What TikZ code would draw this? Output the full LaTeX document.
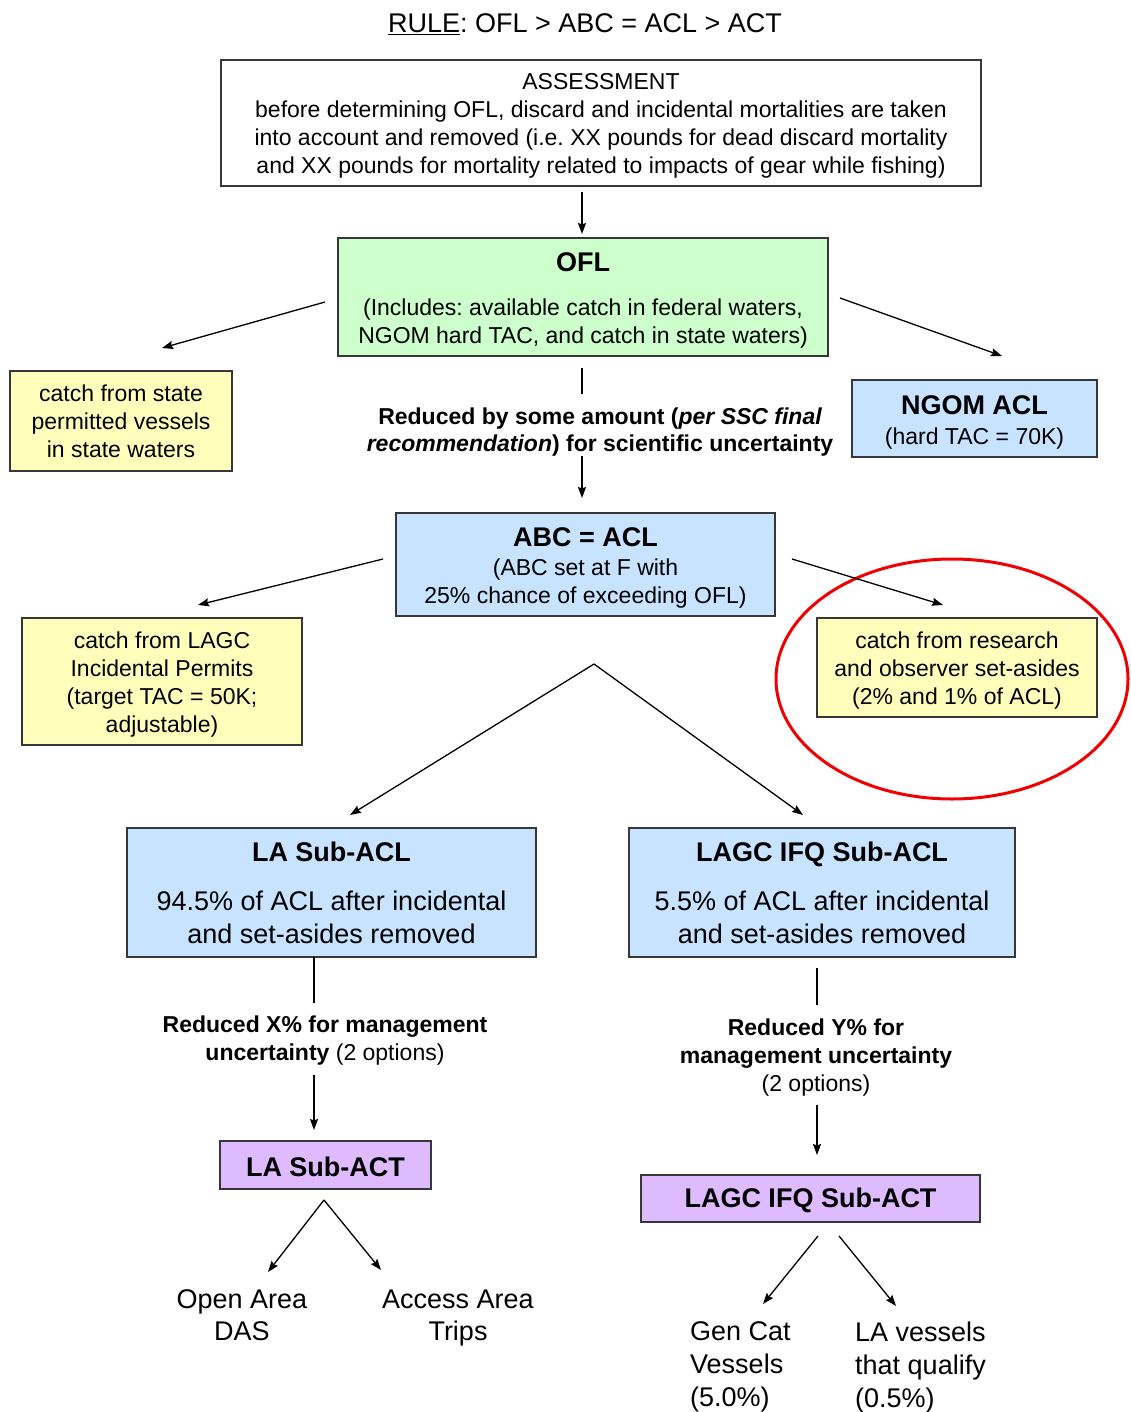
\documentclass[tikz,border=0pt]{standalone}
\usepackage{fontspec}
\setmainfont{Liberation Sans}
\usetikzlibrary{arrows.meta,calc}
\definecolor{gfill}{RGB}{204,255,204}
\definecolor{yfill}{RGB}{255,255,187}
\definecolor{bfill}{RGB}{199,227,255}
\definecolor{pfill}{RGB}{222,186,255}
\definecolor{edgec}{RGB}{55,55,55}
\definecolor{ered}{RGB}{240,0,0}
\newcommand{\tupa}{\rule{0pt}{22.5pt}}
\newcommand{\tupb}{\rule{0pt}{26pt}}
\newcommand{\tupc}{\rule{0pt}{23.5pt}}
\frenchspacing
\begin{document}
\begin{tikzpicture}[x=1pt,y=-1pt,
  box/.style={draw=edgec, line width=1.6pt, align=center, inner sep=0pt},
  arr/.style={line width=1.3pt, -{Stealth[length=11pt,width=8pt,inset=1.5pt]}},
  ln/.style={line width=1.3pt},
  txt/.style={align=center, inner sep=0pt},
  fs/.style={font=\fontsize{23}{28}\selectfont},
  fb/.style={font=\fontsize{27}{33}\selectfont},
]
\useasboundingbox (0,0) rectangle (1130,1412);

% title
\node[txt, font=\fontsize{27}{32}\selectfont] (title) at (585,24) {\underline{RULE}: OFL > ABC = ACL > ACT};

% boxes
\node[box, fs, fill=white, minimum width=760pt, minimum height=126pt] (assess) at (601,123)
  {\tupa ASSESSMENT\\before determining OFL, discard and incidental mortalities are taken\\into account and removed (i.e. XX pounds for dead discard mortality\\and XX pounds for mortality related to impacts of gear while fishing)};

\node[box, fs, fill=gfill, minimum width=490pt, minimum height=118pt] (ofl) at (583,297)
  {{\fontsize{27}{28}\selectfont\bfseries \tupb OFL}\\[16pt](Includes: available catch in federal waters,\\NGOM hard TAC, and catch in state waters)};

\node[box, fs, fill=yfill, minimum width=222pt, minimum height=100pt] (state) at (121,421)
  {catch from state\\permitted vessels\\in state waters};

\node[box, fs, fill=bfill, minimum width=245pt, minimum height=77pt] (ngom) at (974.5,418.5)
  {{\fontsize{27}{28}\selectfont\bfseries \tupb NGOM ACL}\\[2pt](hard TAC = 70K)};

\node[txt, font=\fontsize{23}{27}\selectfont\bfseries] (red1) at (600,432)
  {Reduced by some amount ({\itshape per SSC final}\\{\itshape recommendation}) for scientific uncertainty};

\node[box, fs, fill=bfill, minimum width=379pt, minimum height=103pt] (abc) at (585.5,564.5)
  {{\fontsize{27}{28}\selectfont\bfseries \tupb ABC = ACL}\\[1pt](ABC set at F with\\25\% chance of exceeding OFL)};

\node[box, fs, fill=yfill, minimum width=280pt, minimum height=127pt] (lagcinc) at (162,681.5)
  {\tupa catch from LAGC\\Incidental Permits\\(target TAC = 50K;\\adjustable)};

\node[box, fs, fill=yfill, minimum width=280pt, minimum height=99pt] (research) at (957,667.5)
  {\tupa catch from research\\and observer set-asides\\(2\% and 1\% of ACL)};

\draw[ered, line width=3pt] (952,679) ellipse [x radius=176pt, y radius=120pt];

\node[box, fb, fill=bfill, minimum width=409pt, minimum height=129pt] (lasubacl) at (331.5,892.5)
  {{\bfseries LA Sub-ACL}\\[16pt]94.5\% of ACL after incidental\\and set-asides removed};

\node[box, fb, fill=bfill, minimum width=386pt, minimum height=129pt] (ifqsubacl) at (822,892.5)
  {{\bfseries LAGC IFQ Sub-ACL}\\[16pt]5.5\% of ACL after incidental\\and set-asides removed};

\node[txt, font=\fontsize{23}{28}\selectfont] (redx) at (325,1041)
  {\bfseries Reduced X\% for management\\{\bfseries uncertainty} (2 options)};

\node[txt, font=\fontsize{23}{28}\selectfont] (redy) at (816,1058)
  {\bfseries Reduced Y\% for\\{\bfseries management uncertainty}\\(2 options)};

\node[box, fill=pfill, font=\fontsize{27}{32}\selectfont\bfseries, minimum width=211pt, minimum height=48pt] (lasubact) at (325.5,1165)
  {\tupc LA Sub-ACT};

\node[box, fill=pfill, font=\fontsize{27}{32}\selectfont\bfseries, minimum width=339pt, minimum height=47pt] (ifqsubact) at (810.5,1198.5)
  {\tupc LAGC IFQ Sub-ACT};

\node[txt, font=\fontsize{27}{32}\selectfont] (open) at (242,1315) {Open Area\\DAS};
\node[txt, font=\fontsize{27}{32}\selectfont] (access) at (458,1318) {Access Area\\Trips};
\node[txt, align=left, anchor=west, font=\fontsize{27}{33}\selectfont] (gencat) at (690,1367) {Gen Cat\\Vessels\\(5.0\%)};
\node[txt, align=left, anchor=west, font=\fontsize{27}{33}\selectfont] (lavess) at (855,1367) {LA vessels\\that qualify\\(0.5\%)};

% connector end points
\coordinate (a1s) at (582,192);  \coordinate (a1e) at (582,234);
\coordinate (a2s) at (325,302);  \coordinate (a2e) at (162,348);
\coordinate (a3s) at (840,298);  \coordinate (a3e) at (1002,356);
\coordinate (l4s) at (582,368);  \coordinate (l4e) at (582,394);
\coordinate (a5s) at (582,456);  \coordinate (a5e) at (582,498);
\coordinate (a6s) at (383,559);  \coordinate (a6e) at (198,605);
\coordinate (a7s) at (792,559);  \coordinate (a7e) at (943,605);
\coordinate (apex) at (594,664);
\coordinate (a8e) at (350,815);  \coordinate (a9e) at (803,815);
\coordinate (l10s) at (314,957); \coordinate (l10e) at (314,1003);
\coordinate (a11s) at (314,1075); \coordinate (a11e) at (314,1130);
\coordinate (l12s) at (817,968); \coordinate (l12e) at (817,1005);
\coordinate (a13s) at (817,1105); \coordinate (a13e) at (817,1155);
\coordinate (apex2) at (324,1200);
\coordinate (a14e) at (268,1272); \coordinate (a15e) at (381,1270);
\coordinate (a16s) at (818,1236); \coordinate (a16e) at (763,1304);
\coordinate (a17s) at (839,1236); \coordinate (a17e) at (896,1306);

\draw[arr] (a1s) -- (a1e);
\draw[arr] (a2s) -- (a2e);
\draw[arr] (a3s) -- (a3e);
\draw[ln]  (l4s) -- (l4e);
\draw[arr] (a5s) -- (a5e);
\draw[arr] (a6s) -- (a6e);
\draw[arr] (a7s) -- (a7e);
\draw[arr] (apex) -- (a8e);
\draw[arr] (apex) -- (a9e);
\draw[ln]  (l10s) -- (l10e);
\draw[arr] (a11s) -- (a11e);
\draw[ln]  (l12s) -- (l12e);
\draw[arr] (a13s) -- (a13e);
\draw[arr] (apex2) -- (a14e);
\draw[arr] (apex2) -- (a15e);
\draw[arr] (a16s) -- (a16e);
\draw[arr] (a17s) -- (a17e);
\end{tikzpicture}
\end{document}
